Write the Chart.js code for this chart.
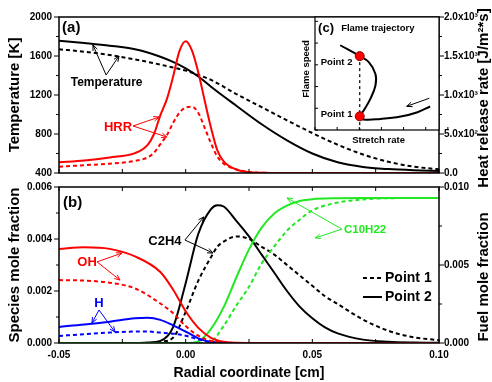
<!DOCTYPE html>
<html>
<head>
<meta charset="utf-8">
<script src="https://cdn.jsdelivr.net/npm/chart.js@4.4.1/dist/chart.umd.min.js"></script>
<style>
body { margin: 0; background: #fff; }
#wrap { position: relative; width: 492px; height: 382px; }
#wrap canvas { position: absolute; left: 0; top: 0; }
</style>
</head>
<body>
<div id="wrap">
  <canvas id="topChart" width="492" height="382"></canvas>
  <canvas id="bottomChart" width="492" height="382"></canvas>
  <canvas id="insetChart" width="492" height="382"></canvas>
</div>
<script>
// ---- panel (a): temperature and heat release rate
const tempX = [-0.05, -0.04, -0.03, -0.02, -0.01, -0.005, 0, 0.005, 0.01, 0.02, 0.03, 0.04, 0.05, 0.06, 0.07, 0.08, 0.09, 0.10];
const tempP1 = [1669, 1644, 1610, 1565, 1512, 1482, 1450, 1405, 1355, 1210, 1075, 940, 810, 690, 590, 515, 465, 438];
const tempP2 = [1757, 1733, 1706, 1669, 1593, 1540, 1474, 1390, 1285, 1090, 900, 735, 600, 510, 462, 440, 428, 421];

const hrrX = [-0.05, -0.04, -0.03, -0.02, -0.015, -0.0125, -0.01, -0.0075, -0.005, -0.0025, 0, 0.0025, 0.005, 0.0075, 0.01, 0.0125, 0.015, 0.02, 0.025, 0.03, 0.04, 0.06, 0.10];
const hrrP1 = [81, 100, 120, 155, 200, 260, 370, 480, 640, 770, 840, 850, 770, 580, 380, 210, 120, 45, 12, 3, 0, 0, 0];
const hrrP2 = [137, 160, 200, 255, 360, 500, 740, 940, 1230, 1560, 1690, 1570, 1290, 930, 580, 290, 150, 45, 10, 3, 0, 0, 0];

// ---- panel (b): species mole fractions
const ohX = [-0.05, -0.04, -0.03, -0.02, -0.01, -0.005, 0, 0.005, 0.01, 0.015, 0.02, 0.03, 0.10];
const ohP1 = [0.00242, 0.0024, 0.00232, 0.0021, 0.00152, 0.00115, 0.00065, 0.00028, 0.00008, 0.00002, 0, 0, 0];
const ohP2 = [0.00362, 0.00368, 0.00362, 0.00333, 0.00273, 0.00206, 0.00122, 0.00058, 0.0002, 0.00005, 0.00001, 0, 0];

const hX = [-0.05, -0.04, -0.03, -0.02, -0.015, -0.01, -0.005, 0, 0.005, 0.01, 0.015, 0.02, 0.10];
const hP1 = [0.00027, 0.00034, 0.0004, 0.00044, 0.00044, 0.0004, 0.00036, 0.00028, 0.00014, 0.00004, 0.00001, 0, 0];
const hP2 = [0.00062, 0.00071, 0.00082, 0.00095, 0.00097, 0.00089, 0.00068, 0.00044, 0.00018, 0.00004, 0.00001, 0, 0];

const c2h4X = [-0.05, -0.02, -0.015, -0.01, -0.005, 0, 0.005, 0.01, 0.0125, 0.015, 0.02, 0.025, 0.03, 0.035, 0.04, 0.045, 0.05, 0.055, 0.06, 0.07, 0.08, 0.09, 0.10];
const c2h4P1 = [0, 0, 0, 0.00005, 0.0002, 0.0012, 0.0024, 0.0033, 0.0037, 0.0039, 0.0041, 0.004, 0.0037, 0.0034, 0.003, 0.0026, 0.0022, 0.0018, 0.0015, 0.0009, 0.00047, 0.00022, 0.00011];
const c2h4P2 = [0, 0, 0.00002, 0.00008, 0.0006, 0.0023, 0.0042, 0.00515, 0.0053, 0.00525, 0.0047, 0.0041, 0.0034, 0.0027, 0.002, 0.0014, 0.00095, 0.0006, 0.00037, 0.00013, 0.00005, 0.00002, 0.00001];

const fuelX = [-0.05, 0, 0.005, 0.01, 0.015, 0.02, 0.025, 0.03, 0.035, 0.04, 0.045, 0.05, 0.06, 0.07, 0.08, 0.10];
const fuelP1 = [0, 0, 0, 0.0001, 0.0011, 0.0024, 0.0036, 0.0051, 0.0062, 0.0072, 0.0079, 0.0085, 0.009, 0.0092, 0.00928, 0.0093];
const fuelP2 = [0, 0, 0.0001, 0.0009, 0.0023, 0.0042, 0.006, 0.0074, 0.0083, 0.0088, 0.0091, 0.00922, 0.00928, 0.0093, 0.0093, 0.0093];

// ---- inset (c): flame trajectory (arbitrary units)
const trajX = [1.14, 2.02, 2.43, 2.73, 2.73, 2.50, 2.20, 2.02, 2.20, 2.96, 3.87, 4.63, 5.20];
const trajY = [3.55, 3.05, 2.77, 2.23, 1.70, 1.08, 0.55, 0.28, 0.13, 0.16, 0.27, 0.47, 0.73];
const stateX = [2.02, 2.02];
const stateY = [0.28, 3.05];

// ---- tick labels
const xTicks = [-0.05, 0, 0.05, 0.10];
const xTickLabels = ['-0.05', '0.00', '0.05', '0.10'];
const tempTicks = [400, 800, 1200, 1600, 2000];
const hrrTicks = [0, 500, 1000, 1500, 2000];
const hrrTickLabels = ['0.0', '5.0x10\u00b2', '1.0x10\u00b3', '1.5x10\u00b3', '2.0x10\u00b3'];
const speciesTicks = [0, 0.002, 0.004, 0.006];
const speciesTickLabels = ['0.000', '0.002', '0.004', '0.006'];
const fuelTicks = [0, 0.005, 0.010];
const fuelTickLabels = ['0.000', '0.005', '0.010'];

const FONT = "'Liberation Sans', Arial, sans-serif";
const RED = '#ff0000', BLUE = '#0000ff', GREEN = '#22e822', BLACK = '#000000';
const DASH = [4, 3];

function pts(xs, ys) {
    return xs.map((x, i) => ({ x: x, y: ys[i] }));
}

function curve(label, xs, ys, color, dashed, axis) {
    return {
        label: label,
        data: pts(xs, ys),
        yAxisID: axis,
        borderColor: color,
        borderWidth: 2,
        borderDash: dashed ? DASH : [],
        pointRadius: 0,
        fill: false,
        cubicInterpolationMode: 'monotone'
    };
}

function yAxis(pos, min, max, ticks, labels, width) {
    return {
        position: pos, min: min, max: max,
        afterBuildTicks: s => { s.ticks = ticks.map(v => ({ value: v })); },
        ticks: {
            autoSkip: false,
            padding: pos === 'left' ? 7 : 5,
            color: BLACK,
            font: { family: FONT, size: 10, weight: 'bold' },
            callback: (v, i) => labels[i]
        },
        grid: { display: false, drawTicks: false },
        border: { display: false },
        afterFit: s => { s.width = width; }
    };
}

function arrow(ctx, x1, y1, x2, y2) {
    const ang = Math.atan2(y2 - y1, x2 - x1);
    ctx.beginPath();
    ctx.moveTo(x1, y1);
    ctx.lineTo(x2, y2);
    ctx.moveTo(x2 - 6 * Math.cos(ang - 0.4), y2 - 6 * Math.sin(ang - 0.4));
    ctx.lineTo(x2, y2);
    ctx.lineTo(x2 - 6 * Math.cos(ang + 0.4), y2 - 6 * Math.sin(ang + 0.4));
    ctx.stroke();
}

// frame, tick marks, titles and annotations
const decor = {
    id: 'decor',
    beforeDatasetsDraw(chart, args, o) {
        if (!o.whiteBox) return;
        const a = chart.chartArea;
        chart.ctx.save();
        chart.ctx.fillStyle = '#fff';
        chart.ctx.fillRect(a.left, a.top, a.right - a.left, a.bottom - a.top);
        chart.ctx.restore();
    },
    afterDatasetsDraw(chart, args, o) {
        const ctx = chart.ctx, a = chart.chartArea;
        const xs = chart.scales.x;
        ctx.save();
        ctx.strokeStyle = BLACK;
        ctx.lineWidth = 1;

        (o.ticks || []).forEach(t => {
            const s = chart.scales[t.id];
            const n = Math.round((s.max - s.min) / t.step);
            for (let i = 0; i <= n; i++) {
                const v = s.min + i * t.step;
                const len = (i % t.every === 0) ? t.len : t.len * 0.6;
                ctx.beginPath();
                if (t.side === 'left' || t.side === 'right') {
                    const y = s.getPixelForValue(v);
                    const x0 = t.side === 'left' ? a.left : a.right;
                    const d = (t.side === 'left' ? -1 : 1) * (t.inward ? -1 : 1);
                    ctx.moveTo(x0, y); ctx.lineTo(x0 + d * len, y);
                } else {
                    const x = s.getPixelForValue(v);
                    const y0 = t.side === 'bottom' ? a.bottom : a.top;
                    const d = (t.side === 'bottom' ? 1 : -1) * (t.inward ? -1 : 1);
                    ctx.moveTo(x, y0); ctx.lineTo(x, y0 + d * len);
                }
                ctx.stroke();
            }
        });

        ctx.lineWidth = o.boxWidth || 1.5;
        ctx.strokeRect(a.left, a.top, a.right - a.left, a.bottom - a.top);

        (o.arrows || []).forEach(r => {
            const ys = chart.scales[r.axis || 'y'];
            ctx.strokeStyle = r.color;
            ctx.lineWidth = 1;
            arrow(ctx, xs.getPixelForValue(r.from[0]), ys.getPixelForValue(r.from[1]),
                  xs.getPixelForValue(r.to[0]), ys.getPixelForValue(r.to[1]));
        });

        (o.keys || []).forEach(k => {
            const ys = chart.scales.y;
            const y = ys.getPixelForValue(k.y);
            ctx.strokeStyle = BLACK;
            ctx.lineWidth = 2;
            ctx.setLineDash(k.dashed ? DASH : []);
            ctx.beginPath();
            ctx.moveTo(xs.getPixelForValue(k.x1), y);
            ctx.lineTo(xs.getPixelForValue(k.x2), y);
            ctx.stroke();
            ctx.setLineDash([]);
            ctx.fillStyle = BLACK;
            ctx.font = 'bold 14px ' + FONT;
            ctx.textAlign = 'left';
            ctx.textBaseline = 'middle';
            ctx.fillText(k.label, xs.getPixelForValue(k.x2) + 3, y);
        });

        (o.texts || []).forEach(t => {
            const ys = chart.scales[t.axis || 'y'];
            ctx.save();
            ctx.translate(xs.getPixelForValue(t.x), ys.getPixelForValue(t.y));
            if (t.rot) ctx.rotate(t.rot);
            ctx.fillStyle = t.color || BLACK;
            ctx.font = 'bold ' + t.size + 'px ' + FONT;
            ctx.textAlign = t.align || 'center';
            ctx.textBaseline = 'middle';
            ctx.fillText(t.t, 0, 0);
            ctx.restore();
        });

        (o.titles || []).forEach(t => {
            ctx.save();
            const cy = (a.top + a.bottom) / 2 + (t.dy || 0);
            if (t.side === 'bottom') {
                ctx.translate((a.left + a.right) / 2, t.y);
            } else {
                ctx.translate(t.side === 'left' ? 15 : 484, cy);
                ctx.rotate(-Math.PI / 2);
            }
            ctx.fillStyle = BLACK;
            ctx.font = 'bold ' + t.size + 'px ' + FONT;
            ctx.textAlign = 'center';
            ctx.textBaseline = 'middle';
            ctx.fillText(t.t, 0, 0);
            ctx.restore();
        });
        ctx.restore();
    }
};

const common = {
    responsive: false,
    animation: false,
    devicePixelRatio: 1,
    events: []
};

// ---- top panel
new Chart(document.getElementById('topChart'), {
    type: 'line',
    data: {
        datasets: [
            curve('HRR point 2', hrrX, hrrP2, RED, false, 'y2'),
            curve('HRR point 1', hrrX, hrrP1, RED, true, 'y2'),
            curve('T point 2', tempX, tempP2, BLACK, false, 'y'),
            curve('T point 1', tempX, tempP1, BLACK, true, 'y')
        ]
    },
    options: Object.assign({}, common, {
        layout: { padding: { top: 17, bottom: 209, left: 0, right: 0 } },
        scales: {
            x: { type: 'linear', min: -0.05, max: 0.10, display: false },
            y: yAxis('left', 400, 2000, tempTicks, tempTicks.map(String), 59),
            y2: yAxis('right', 0, 2000, hrrTicks, hrrTickLabels, 53)
        },
        plugins: {
            legend: { display: false },
            tooltip: { enabled: false },
            decor: {
                ticks: [
                    { id: 'y', step: 200, every: 2, side: 'left', len: 5 },
                    { id: 'y2', step: 250, every: 2, side: 'right', len: 5 },
                    { id: 'x', step: 0.025, every: 1, side: 'bottom', inward: true, len: 4 }
                ],
                arrows: [
                    { from: [-0.0314, 1405], to: [-0.0366, 1713], color: BLACK },
                    { from: [-0.0314, 1405], to: [-0.0263, 1600], color: BLACK },
                    { from: [-0.0208, 882], to: [-0.0105, 974], color: RED },
                    { from: [-0.0208, 882], to: [-0.0074, 769], color: RED }
                ],
                texts: [
                    { t: '(a)', x: -0.0488, y: 1887, size: 15, align: 'left' },
                    { t: 'Temperature', x: -0.0312, y: 1323, size: 12 },
                    { t: 'HRR', x: -0.0267, y: 872, size: 13, color: RED }
                ],
                titles: [
                    { t: 'Temperature [K]', side: 'left', size: 15 },
                    { t: 'Heat release rate [J/m\u00b2*s]', side: 'right', size: 15, dy: 3 }
                ]
            }
        }
    }),
    plugins: [decor]
});

// ---- bottom panel
new Chart(document.getElementById('bottomChart'), {
    type: 'line',
    data: {
        datasets: [
            curve('OH point 2', ohX, ohP2, RED, false, 'y'),
            curve('OH point 1', ohX, ohP1, RED, true, 'y'),
            curve('H point 2', hX, hP2, BLUE, false, 'y'),
            curve('H point 1', hX, hP1, BLUE, true, 'y'),
            curve('C10H22 point 2', fuelX, fuelP2, GREEN, false, 'y2'),
            curve('C10H22 point 1', fuelX, fuelP1, GREEN, true, 'y2'),
            curve('C2H4 point 2', c2h4X, c2h4P2, BLACK, false, 'y'),
            curve('C2H4 point 1', c2h4X, c2h4P1, BLACK, true, 'y')
        ]
    },
    options: Object.assign({}, common, {
        layout: { padding: { top: 187, bottom: 0, left: 0, right: 0 } },
        scales: {
            x: {
                type: 'linear', min: -0.05, max: 0.10,
                afterBuildTicks: s => { s.ticks = xTicks.map(v => ({ value: v })); },
                ticks: {
                    autoSkip: false, maxRotation: 0, padding: 6, color: BLACK,
                    font: { family: FONT, size: 10, weight: 'bold' },
                    callback: (v, i) => xTickLabels[i]
                },
                grid: { display: false, drawTicks: false },
                border: { display: false },
                afterFit: s => { s.height = 39; }
            },
            y: yAxis('left', 0, 0.006, speciesTicks, speciesTickLabels, 59),
            y2: yAxis('right', 0, 0.010, fuelTicks, fuelTickLabels, 53)
        },
        plugins: {
            legend: { display: false },
            tooltip: { enabled: false },
            decor: {
                ticks: [
                    { id: 'y', step: 0.001, every: 2, side: 'left', len: 5 },
                    { id: 'y2', step: 0.0025, every: 2, side: 'right', len: 5 },
                    { id: 'x', step: 0.025, every: 1, side: 'bottom', inward: true, len: 4 },
                    { id: 'x', step: 0.025, every: 1, side: 'top', inward: true, len: 4 }
                ],
                arrows: [
                    { from: [-0.035, 0.00312], to: [-0.0251, 0.00346], color: RED },
                    { from: [-0.035, 0.00312], to: [-0.0259, 0.00242], color: RED },
                    { from: [-0.0342, 0.00127], to: [-0.037, 0.00077], color: BLUE },
                    { from: [-0.0342, 0.00127], to: [-0.0279, 0.00042], color: BLUE },
                    { from: [-0.0003, 0.00396], to: [0.0072, 0.00485], color: BLACK },
                    { from: [-0.0003, 0.00396], to: [0.0108, 0.00346], color: BLACK },
                    { from: [0.0617, 0.00438], to: [0.040, 0.00558], color: GREEN },
                    { from: [0.0617, 0.00438], to: [0.0511, 0.00404], color: GREEN }
                ],
                keys: [
                    { x1: 0.070, x2: 0.0775, y: 0.0025, dashed: true, label: 'Point 1' },
                    { x1: 0.070, x2: 0.0775, y: 0.00177, dashed: false, label: 'Point 2' }
                ],
                texts: [
                    { t: '(b)', x: -0.0484, y: 0.00538, size: 15, align: 'left' },
                    { t: 'OH', x: -0.0389, y: 0.00308, size: 13, color: RED },
                    { t: 'H', x: -0.0342, y: 0.00154, size: 13, color: BLUE },
                    { t: 'C2H4', x: -0.0082, y: 0.00392, size: 13 },
                    { t: 'C10H22', x: 0.0625, y: 0.00435, size: 11.5, color: GREEN, align: 'left' }
                ],
                titles: [
                    { t: 'Species mole fraction', side: 'left', size: 15 },
                    { t: 'Fuel mole fraction', side: 'right', size: 15, dy: 12 },
                    { t: 'Radial coordinate [cm]', side: 'bottom', size: 14, y: 373 }
                ]
            }
        }
    }),
    plugins: [decor]
});

// ---- inset (c)
new Chart(document.getElementById('insetChart'), {
    type: 'scatter',
    data: {
        datasets: [
            {
                label: 'states', data: pts(stateX, stateY), showLine: false,
                pointRadius: 4.5, pointBackgroundColor: RED, pointBorderColor: '#990000', pointBorderWidth: 1
            },
            {
                label: 'trajectory', data: pts(trajX, trajY), showLine: true, tension: 0.4,
                borderColor: BLACK, borderWidth: 2, pointRadius: 0
            },
            {
                label: 'guide', data: pts([stateX[1], stateX[1]], [stateY[1], -0.35]), showLine: true,
                borderColor: BLACK, borderWidth: 1.2, borderDash: [3, 3], pointRadius: 0
            }
        ]
    },
    options: Object.assign({}, common, {
        layout: { padding: { top: 17, bottom: 252, left: 315, right: 53 } },
        scales: {
            x: { type: 'linear', min: 0, max: 5.6, display: false },
            y: { type: 'linear', min: -0.35, max: 4.85, display: false }
        },
        plugins: {
            legend: { display: false },
            tooltip: { enabled: false },
            decor: {
                whiteBox: true,
                boxWidth: 1.2,
                ticks: [
                    { id: 'y', step: 1, every: 1, side: 'left', inward: true, len: 3 },
                    { id: 'x', step: 1, every: 1, side: 'bottom', inward: true, len: 3 }
                ],
                arrows: [
                    { from: [5.16, 1.11], to: [4.14, 0.74], color: BLACK }
                ],
                texts: [
                    { t: '(c)', x: 0.14, y: 4.34, size: 13, align: 'left' },
                    { t: 'Flame trajectory', x: 1.18, y: 4.34, size: 9.5, align: 'left' },
                    { t: 'Point 2', x: 0.26, y: 2.77, size: 9.5, align: 'left' },
                    { t: 'Point 1', x: 0.26, y: 0.39, size: 9.5, align: 'left' },
                    { t: 'Flame speed', x: -0.38, y: 2.46, size: 9.5, rot: -Math.PI / 2 },
                    { t: 'Stretch rate', x: 2.87, y: -0.83, size: 9.5 }
                ]
            }
        }
    }),
    plugins: [decor]
});
</script>
</body>
</html>
